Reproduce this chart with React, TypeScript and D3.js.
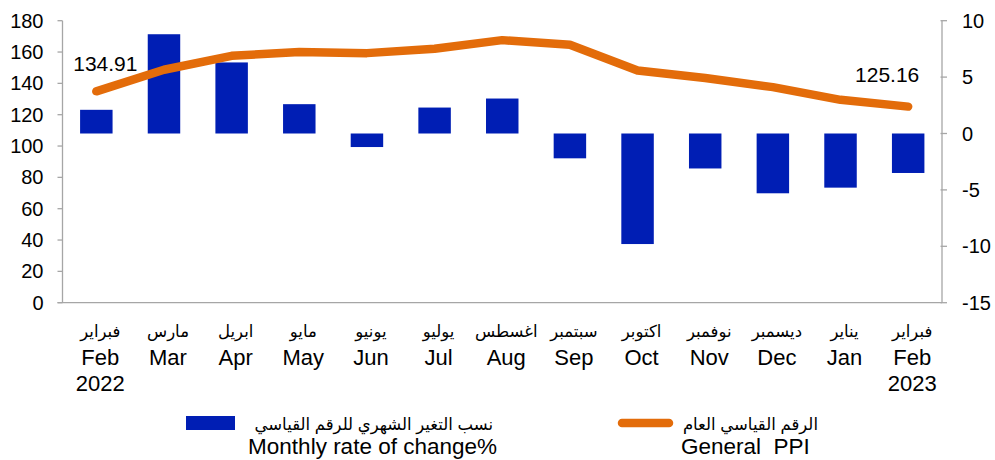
import * as d3 from "d3";

const monthsAr = ["فبراير", "مارس", "ابريل", "مايو", "يونيو", "يوليو", "اغسطس", "سبتمبر", "اكتوبر", "نوفمبر", "ديسمبر", "يناير", "فبراير"];
const monthsEn = ["Feb", "Mar", "Apr", "May", "Jun", "Jul", "Aug", "Sep", "Oct", "Nov", "Dec", "Jan", "Feb"];
const years = ["2022", "", "", "", "", "", "", "", "", "", "", "", "2023"];
const monthlyChange = [2.1, 8.8, 6.3, 2.6, -1.2, 2.3, 3.1, -2.2, -9.8, -3.1, -5.3, -4.8, -3.5];
const generalPPI = [134.91, 148.7, 157.6, 160.0, 159.3, 162.1, 167.6, 164.7, 148.2, 143.4, 137.6, 129.5, 125.16];
const leftTicks = [0, 20, 40, 60, 80, 100, 120, 140, 160, 180];
const rightTicks = [-15, -10, -5, 0, 5, 10];

const barColor = "#001EB4";
const lineColor = "#E36C0A";
const axisColor = "#a6a6a6";
const font = "'Liberation Sans', Arial, 'DejaVu Sans', sans-serif";

export default function App() {
  const width = 995;
  const height = 460;
  const plot = { left: 62.5, right: 942, top: 20.7, bottom: 302.7 };
  const idx = monthsEn.map((_, i) => i);
  const x = d3.scaleBand<number>().domain(idx).range([plot.left, plot.right]).paddingInner(0.52).paddingOuter(0.26);
  const cx = (i: number) => (x(i) ?? 0) + x.bandwidth() / 2;
  const yLeft = d3.scaleLinear().domain([0, 180]).range([plot.bottom, plot.top]);
  const yRight = d3.scaleLinear().domain([-15, 10]).range([plot.bottom, plot.top]);
  const line = d3
    .line<number>()
    .x((_, i) => cx(i))
    .y((d) => yLeft(d));

  const last = generalPPI.length - 1;

  return (
    <svg width={width} height={height} style={{ position: "absolute", left: 0, top: 0, fontFamily: font }}>
      <rect width={width} height={height} fill="#fff" />
      {monthlyChange.map((v, i) => (
        <rect
          key={i}
          x={x(i)}
          y={yRight(Math.max(v, 0))}
          width={x.bandwidth()}
          height={Math.abs(yRight(v) - yRight(0))}
          fill={barColor}
        />
      ))}
      <path d={line(generalPPI) ?? ""} fill="none" stroke={lineColor} strokeWidth={8.5} strokeLinecap="round" strokeLinejoin="round" />
      <text x={cx(0) + 9} y={71} textAnchor="middle" fontSize={21} fill="#000">
        {generalPPI[0].toFixed(2)}
      </text>
      <text x={cx(last) - 21} y={82} textAnchor="middle" fontSize={21} fill="#000">
        {generalPPI[last].toFixed(2)}
      </text>

      {/* axes */}
      <line x1={plot.left} x2={plot.left} y1={plot.top} y2={plot.bottom} stroke={axisColor} strokeWidth={1.3} />
      <line x1={plot.right} x2={plot.right} y1={plot.top} y2={plot.bottom} stroke={axisColor} strokeWidth={1.3} />
      <line x1={plot.left - 5} x2={plot.right} y1={plot.bottom} y2={plot.bottom} stroke={axisColor} strokeWidth={1.3} />
      {leftTicks.map((t) => (
        <g key={t}>
          <line x1={plot.left - 5} x2={plot.left} y1={yLeft(t)} y2={yLeft(t)} stroke={axisColor} strokeWidth={1.3} />
          <text x={plot.left - 19} y={yLeft(t) + 7} textAnchor="end" fontSize={20} fill="#000">
            {t}
          </text>
        </g>
      ))}
      {rightTicks.map((t) => (
        <g key={t}>
          <line x1={plot.right - 1.5} x2={plot.right + 5} y1={yRight(t)} y2={yRight(t)} stroke={axisColor} strokeWidth={1.3} />
          <text x={plot.right + 20} y={yRight(t) + 7} textAnchor="start" fontSize={20} fill="#000">
            {t}
          </text>
        </g>
      ))}

      {/* category labels */}
      {idx.map((i) => (
        <g key={i} transform={`translate(${cx(i) + 4}, 0)`}>
          <text y={337} textAnchor="middle" fontSize={16.5} fill="#000">
            {monthsAr[i]}
          </text>
          <text y={365} textAnchor="middle" fontSize={22} fill="#000">
            {monthsEn[i]}
          </text>
          <text y={391} textAnchor="middle" fontSize={22} fill="#000">
            {years[i]}
          </text>
        </g>
      ))}

      {/* legend */}
      <rect x={186} y={416} width={49} height={14} fill={barColor} />
      <text x={493} y={430} textAnchor="end" fontSize={16.5} fill="#000">
        نسب التغير الشهري للرقم القياسي
      </text>
      <text x={497} y={454} textAnchor="end" fontSize={22.5} fill="#000">
        Monthly rate of change%
      </text>
      <line x1={622} x2={669} y1={423} y2={423} stroke={lineColor} strokeWidth={8.5} strokeLinecap="round" />
      <text x={818} y={430} textAnchor="end" fontSize={16.5} fill="#000">
        الرقم القياسي العام
      </text>
      <text x={681} y={454} textAnchor="start" fontSize={22.5} fill="#000" style={{ whiteSpace: "pre" }}>
        {"General  PPI"}
      </text>
    </svg>
  );
}
